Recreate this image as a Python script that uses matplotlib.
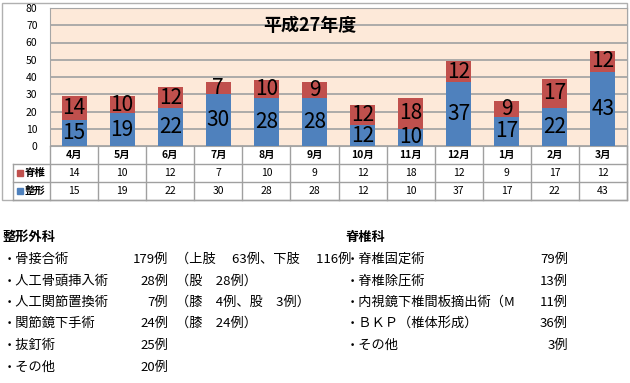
import matplotlib
matplotlib.use("Agg")
import matplotlib.pyplot as plt
from matplotlib.patches import Rectangle

plt.rcParams["font.family"] = ["Noto Sans CJK JP", "DejaVu Sans"]

# データ
months = ["4月", "5月", "6月", "7月", "8月", "9月", "10月", "11月", "12月", "1月", "2月", "3月"]
seikei = [15, 19, 22, 30, 28, 28, 12, 10, 37, 17, 22, 43]
sekitsui = [14, 10, 12, 7, 10, 9, 12, 18, 12, 9, 17, 12]

seikei_items = ["骨接合術", "人工骨頭挿入術", "人工関節置換術", "関節鏡下手術", "抜釘術", "その他"]
seikei_counts = [179, 28, 7, 24, 25, 20]
seikei_notes = ["（上肢　 63例、下肢　 116例", "（股　28例）", "（膝　4例、股　3例）", "（膝　24例）", "", ""]
sekitsui_items = ["脊椎固定術", "脊椎除圧術", "内視鏡下椎間板摘出術（M", "ＢＫＰ（椎体形成）", "その他"]
sekitsui_counts = [79, 13, 11, 36, 3]

blue = "#4f81bd"
red = "#c0504d"
grid = "#a6a6a6"
W, H = 630, 383

fig = plt.figure(figsize=(6.3, 3.83), dpi=100)

# 全体の枠 (ピクセル座標)
bg = fig.add_axes([0, 0, 1, 1])
bg.set_xlim(0, W)
bg.set_ylim(H, 0)
bg.axis("off")
bg.add_patch(Rectangle((1.5, 2.5), 625.5, 197, fill=False, ec="#b0b0b0", lw=1))

# グラフ
ax = fig.add_axes([50 / W, (H - 146) / H, 577 / W, 138 / H])
x = range(len(months))
ax.set_facecolor("#fde9d9")
ax.bar(x, seikei, width=0.52, color=blue, zorder=3)
ax.bar(x, sekitsui, width=0.52, bottom=seikei, color=red, zorder=3)
for i in x:
    ax.text(i, seikei[i] / 2, str(seikei[i]), ha="center", va="center", fontsize=15, zorder=4)
    ax.text(i, seikei[i] + sekitsui[i] / 2, str(sekitsui[i]), ha="center", va="center",
            fontsize=15, zorder=4)
ax.set_xlim(-0.5, len(months) - 0.5)
ax.set_ylim(0, 80)
ax.set_yticks(range(0, 81, 10))
ax.set_xticks([])
ax.tick_params(axis="y", length=0, pad=9, labelsize=7.5)
ax.grid(axis="y", color=grid, lw=1.3, zorder=1)
for s in ax.spines.values():
    s.set_color(grid)
ax.text(0.45, 0.875, "平成27年度", transform=ax.transAxes, ha="center", va="center",
        fontsize=13, fontweight="bold", zorder=5)

# 表
tb = fig.add_axes([50 / W, (H - 200) / H, 577 / W, 54 / H])
tb.set_xlim(-0.5, len(months) - 0.5)
tb.set_ylim(0, 3)
tb.axis("off")
lc = "#a0a0a0"
left = -0.5 - 37 / 48
for xv in [k - 0.5 for k in range(len(months) + 1)]:
    tb.plot([xv, xv], [0, 3], color=lc, lw=1, clip_on=False)
tb.plot([left, left], [0, 2], color=lc, lw=1, clip_on=False)
for yv in [0, 1, 2]:
    tb.plot([left, 11.5], [yv, yv], color=lc, lw=1, clip_on=False)
for i in x:
    tb.text(i, 2.5, months[i], ha="center", va="center", fontsize=7.5, fontweight="bold")
    tb.text(i, 1.5, str(sekitsui[i]), ha="center", va="center", fontsize=7.5)
    tb.text(i, 0.5, str(seikei[i]), ha="center", va="center", fontsize=7.5)
for yv, c, lab in [(1.5, red, "脊椎"), (0.5, blue, "整形")]:
    tb.plot([left + 0.15], [yv], marker="s", ms=4.5, color=c, clip_on=False)
    tb.text(left + 0.25, yv, lab, ha="left", va="center", fontsize=7.5, fontweight="bold")

# 下の説明文
fs = 9.5
bg.text(3, 237, "整形外科", ha="left", va="center", fontsize=fs, fontweight="bold")
ys = [259, 281, 302, 323, 345, 367]
for k, (name, n, note) in enumerate(zip(seikei_items, seikei_counts, seikei_notes)):
    bg.text(3, ys[k], "・" + name, ha="left", va="center", fontsize=fs)
    bg.text(168, ys[k], f"{n}例", ha="right", va="center", fontsize=fs)
    if note:
        bg.text(176, ys[k], note, ha="left", va="center", fontsize=fs)
bg.text(346, 237, "脊椎科", ha="left", va="center", fontsize=fs, fontweight="bold")
for k, (name, n) in enumerate(zip(sekitsui_items, sekitsui_counts)):
    bg.text(346, ys[k], "・" + name, ha="left", va="center", fontsize=fs)
    bg.text(568, ys[k], f"{n}例", ha="right", va="center", fontsize=fs)

fig.savefig("out.png", dpi=100)
